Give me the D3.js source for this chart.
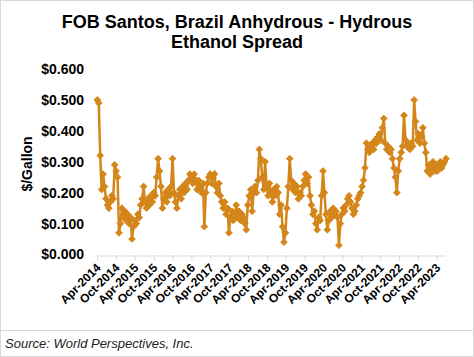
<!DOCTYPE html>
<html>
<head>
<meta charset="utf-8">
<script src="https://cdn.jsdelivr.net/npm/d3@7"></script>
<style>
  html, body { margin: 0; padding: 0; background: #fff; }
  svg { display: block; font-family: "Liberation Sans", Arial, sans-serif; }
</style>
</head>
<body>
<div id="chart"></div>
<script>
// ---- Data (biweekly observations starting 2014-04-04) ----
const startDate = "2014-04-04";
const stepDays = 14;
const spreadValues = [
  0.50,0.49,0.32,0.21,0.26,0.22,0.18,0.16,0.15,0.17,0.19,0.18,0.29,
  0.27,0.25,0.07,0.10,0.15,0.12,0.14,0.11,0.13,0.10,0.12,0.05,0.09,
  0.11,0.10,0.13,0.12,0.16,0.18,0.22,0.17,0.15,0.18,0.16,0.19,0.17,
  0.20,0.19,0.25,0.31,0.27,0.22,0.15,0.18,0.20,0.17,0.21,0.19,0.22,
  0.31,0.20,0.17,0.15,0.19,0.21,0.18,0.22,0.20,0.23,0.21,0.24,0.26,
  0.25,0.23,0.26,0.24,0.21,0.24,0.22,0.20,0.23,0.09,0.20,0.23,0.25,
  0.26,0.23,0.25,0.26,0.22,0.20,0.23,0.19,0.17,0.15,0.17,0.13,0.15,
  0.07,0.12,0.14,0.11,0.13,0.16,0.12,0.14,0.11,0.13,0.12,0.10,0.08,
  0.16,0.19,0.21,0.14,0.20,0.22,0.20,0.24,0.34,0.31,0.25,0.21,0.30,
  0.22,0.19,0.23,0.20,0.17,0.21,0.19,0.22,0.20,0.13,0.16,0.09,0.04,
  0.07,0.15,0.22,0.31,0.24,0.21,0.23,0.20,0.22,0.18,0.20,0.19,0.22,
  0.24,0.26,0.23,0.25,0.19,0.16,0.13,0.14,0.10,0.08,0.12,0.11,0.19,
  0.27,0.20,0.13,0.08,0.11,0.14,0.12,0.15,0.13,0.14,0.12,0.03,0.10,
  0.13,0.15,0.14,0.16,0.18,0.19,0.17,0.15,0.13,0.14,0.16,0.18,0.19,
  0.20,0.22,0.24,0.28,0.36,0.34,0.33,0.35,0.36,0.34,0.37,0.36,0.38,
  0.39,0.37,0.41,0.44,0.36,0.34,0.35,0.33,0.34,0.31,0.28,0.25,0.20,
  0.27,0.31,0.33,0.35,0.45,0.37,0.35,0.36,0.34,0.36,0.35,0.50,0.43,
  0.37,0.39,0.36,0.38,0.41,0.36,0.33,0.27,0.29,0.26,0.28,0.30,0.27,
  0.29,0.27,0.28,0.30,0.28,0.29,0.30,0.31
];
const yTicks = [0, 0.1, 0.2, 0.3, 0.4, 0.5, 0.6];
const xTickLabels = ["Apr-2014","Oct-2014","Apr-2015","Oct-2015","Apr-2016","Oct-2016",
  "Apr-2017","Oct-2017","Apr-2018","Oct-2018","Apr-2019","Oct-2019","Apr-2020",
  "Oct-2020","Apr-2021","Oct-2021","Apr-2022","Oct-2022","Apr-2023"];
const titleLines = ["FOB Santos, Brazil Anhydrous - Hydrous", "Ethanol Spread"];
const yTitle = "$/Gallon";
const sourceText = "Source: World Perspectives, Inc.";

// ---- Layout ----
const W = 474, H = 357;
const color = "#D4861A";
const parse = d3.timeParse("%Y-%m-%d");
const parseTick = d3.timeParse("%b-%Y");
const t0 = parse(startDate);
const data = spreadValues.map((v, i) => ({ date: d3.timeDay.offset(t0, i * stepDays), value: v }));

const svg = d3.select("#chart").append("svg").attr("width", W).attr("height", H);

svg.append("rect").attr("x", 0.5).attr("y", 0.5).attr("width", W - 1).attr("height", H - 1)
  .attr("fill", "#fff").attr("stroke", "#d9d9d9");

const x = d3.scaleTime()
  .domain([parse("2014-04-01"), parse("2023-06-30")])
  .range([97, 446]);
const y = d3.scaleLinear().domain([0, 0.6]).range([254.5, 69]);

// Title
svg.append("g").selectAll("text").data(titleLines).join("text")
  .attr("x", 237).attr("y", (d, i) => 28 + i * 20)
  .attr("text-anchor", "middle").attr("font-weight", "bold").attr("font-size", 18)
  .attr("fill", "#000").text(d => d);

// Y axis (labels only)
const yAxis = d3.axisLeft(y).tickValues(yTicks).tickSize(0).tickPadding(0)
  .tickFormat(d => "$" + d3.format(".3f")(d));
const gy = svg.append("g").attr("transform", "translate(84,0)").call(yAxis);
gy.select(".domain").remove();
gy.selectAll("text").attr("font-size", 14).attr("font-weight", "bold")
  .attr("font-family", "Liberation Sans, Arial, sans-serif").attr("fill", "#000");

// Y title
svg.append("text").attr("transform", "translate(32,164) rotate(-90)")
  .attr("text-anchor", "middle").attr("font-weight", "bold").attr("font-size", 14)
  .text(yTitle);

// X axis
const xTickDates = xTickLabels.map(s => parseTick(s));
const xAxis = d3.axisBottom(x).tickValues(xTickDates).tickSize(5).tickPadding(3)
  .tickFormat(d3.timeFormat("%b-%Y"));
const gx = svg.append("g").attr("transform", `translate(0,${y(0) + 1})`).call(xAxis);
gx.select(".domain").attr("stroke", "#d9d9d9").attr("d", `M${x.range()[0]},0.5H${x.range()[1]}`);
gx.selectAll(".tick line").attr("stroke", "#d9d9d9");
gx.selectAll(".tick text")
  .attr("font-size", 12).attr("font-weight", "bold").attr("fill", "#000")
  .attr("font-family", "Liberation Sans, Arial, sans-serif")
  .attr("text-anchor", "end").attr("dy", "0.35em")
  .attr("transform", "translate(1,10) rotate(-45)").attr("y", 0).attr("x", 0);

// Line
const line = d3.line().x(d => x(d.date)).y(d => y(d.value));
svg.append("path").datum(data).attr("d", line)
  .attr("fill", "none").attr("stroke", color).attr("stroke-width", 2.5);

// Diamond markers
const diamond = d3.symbol().type(d3.symbolDiamond2).size(28);
svg.append("g").selectAll("path").data(data).join("path")
  .attr("transform", d => `translate(${x(d.date)},${y(d.value)})`)
  .attr("d", diamond).attr("fill", color).attr("stroke", color).attr("stroke-width", 1);

// Source separator and text
svg.append("line").attr("x1", 0).attr("x2", W).attr("y1", 330.5).attr("y2", 330.5)
  .attr("stroke", "#d9d9d9");
svg.append("text").attr("x", 5).attr("y", 348).attr("font-style", "italic")
  .attr("font-size", 13).attr("fill", "#222").text(sourceText);
</script>
</body>
</html>
